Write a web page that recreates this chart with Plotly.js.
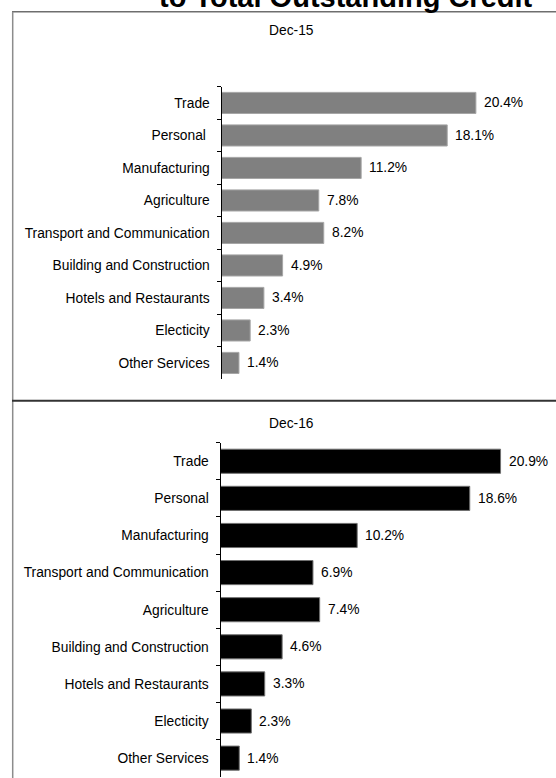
<!DOCTYPE html>
<html>
<head>
<meta charset="utf-8">
<script src="https://cdn.plot.ly/plotly-3.0.1.min.js"></script>
<style>html,body{margin:0;padding:0;background:#fff;}#chart{width:556px;height:778px;}</style>
</head>
<body>
<div id="chart"></div>
<script>
const chartTitle = "to Total Outstanding Credit";
const panel1Title = "Dec-15";
const panel2Title = "Dec-16";
const cat15 = ["Trade","Personal\u00a0","Manufacturing","Agriculture","Transport and Communication","Building and Construction","Hotels and Restaurants","Electicity","Other Services"];
const val15 = [20.4,18.1,11.2,7.8,8.2,4.9,3.4,2.3,1.4];
const cat16 = ["Trade","Personal","Manufacturing","Transport and Communication","Agriculture","Building and Construction","Hotels and Restaurants","Electicity","Other Services"];
const val16 = [20.9,18.6,10.2,6.9,7.4,4.6,3.3,2.3,1.4];

const W = 556, H = 778;
const px = v => v / W;
const py = v => 1 - v / H;
const FONT = "Arial, 'Liberation Sans', sans-serif";
const fs = 13.8;

const traces = [
  {type:'bar', orientation:'h', x: val15, y: cat15, xaxis:'x', yaxis:'y',
   marker:{color:'#808080', line:{color:'#a6a6a6', width:1}}, hoverinfo:'none'},
  {type:'bar', orientation:'h', x: val16, y: cat16, xaxis:'x2', yaxis:'y2',
   marker:{color:'#000000', line:{color:'#707070', width:1}}, hoverinfo:'none'}
];

const annotations = [];
val15.forEach((v,i)=>annotations.push({x:v, y:cat15[i], xref:'x', yref:'y', text:v.toFixed(1)+'%',
  showarrow:false, xanchor:'left', yanchor:'middle', xshift:6, font:{family:FONT,size:fs,color:'#000'}}));
val16.forEach((v,i)=>annotations.push({x:v, y:cat16[i], xref:'x2', yref:'y2', text:v.toFixed(1)+'%',
  showarrow:false, xanchor:'left', yanchor:'middle', xshift:6, font:{family:FONT,size:fs,color:'#000'}}));
annotations.push({x:px(291.7), y:py(30), xref:'paper', yref:'paper', text:panel1Title, showarrow:false,
  xanchor:'center', yanchor:'middle', font:{family:FONT,size:fs,color:'#000'}});
annotations.push({x:px(291.7), y:py(423), xref:'paper', yref:'paper', text:panel2Title, showarrow:false,
  xanchor:'center', yanchor:'middle', font:{family:FONT,size:fs,color:'#000'}});
annotations.push({x:px(345.5), y:py(-3), xref:'paper', yref:'paper', text:'<b>'+chartTitle+'</b>', showarrow:false,
  xanchor:'center', yanchor:'middle', font:{family:FONT,size:29,color:'#000'}});

const yBase = {type:'category', showline:true, linecolor:'#000', linewidth:1, ticks:'outside', tickson:'boundaries',
  ticklen:4, tickcolor:'#000', tickwidth:1, showgrid:false, zeroline:false,
  tickfont:{family:FONT,size:fs,color:'#000'}, ticklabelstandoff:8, fixedrange:true};

const layout = {
  width:W, height:H, margin:{l:0,r:0,t:0,b:0}, showlegend:false,
  paper_bgcolor:'#fff', plot_bgcolor:'rgba(0,0,0,0)', bargap:0.35,
  xaxis:{domain:[px(221.5),1], range:[0,(W-221.5)/12.47], visible:false, anchor:'y'},
  xaxis2:{domain:[px(220.5),1], range:[0,(W-220.5)/13.4], visible:false, anchor:'y2'},
  yaxis:Object.assign({}, yBase, {domain:[py(379.2), py(86.7)], range:[8.5,-0.5], categoryarray:cat15, anchor:'x'}),
  yaxis2:Object.assign({}, yBase, {domain:[py(776.7), py(442.7)], range:[8.5,-0.5], categoryarray:cat16, anchor:'x2'}),
  annotations:annotations,
  shapes:[
    {type:'line', xref:'paper', yref:'paper', x0:px(12), x1:1.01, y0:py(11.7), y1:py(11.7), line:{color:'#6e6e6e', width:1.5}},
    {type:'line', xref:'paper', yref:'paper', x0:px(12.7), x1:px(12.7), y0:py(11.7), y1:-0.01, line:{color:'#8c8c8c', width:1.5}},
    {type:'line', xref:'paper', yref:'paper', x0:px(12), x1:1.01, y0:py(400.7), y1:py(400.7), line:{color:'#333', width:2}}
  ]
};

Plotly.newPlot('chart', traces, layout, {staticPlot:true, displayModeBar:false});
</script>
</body>
</html>
